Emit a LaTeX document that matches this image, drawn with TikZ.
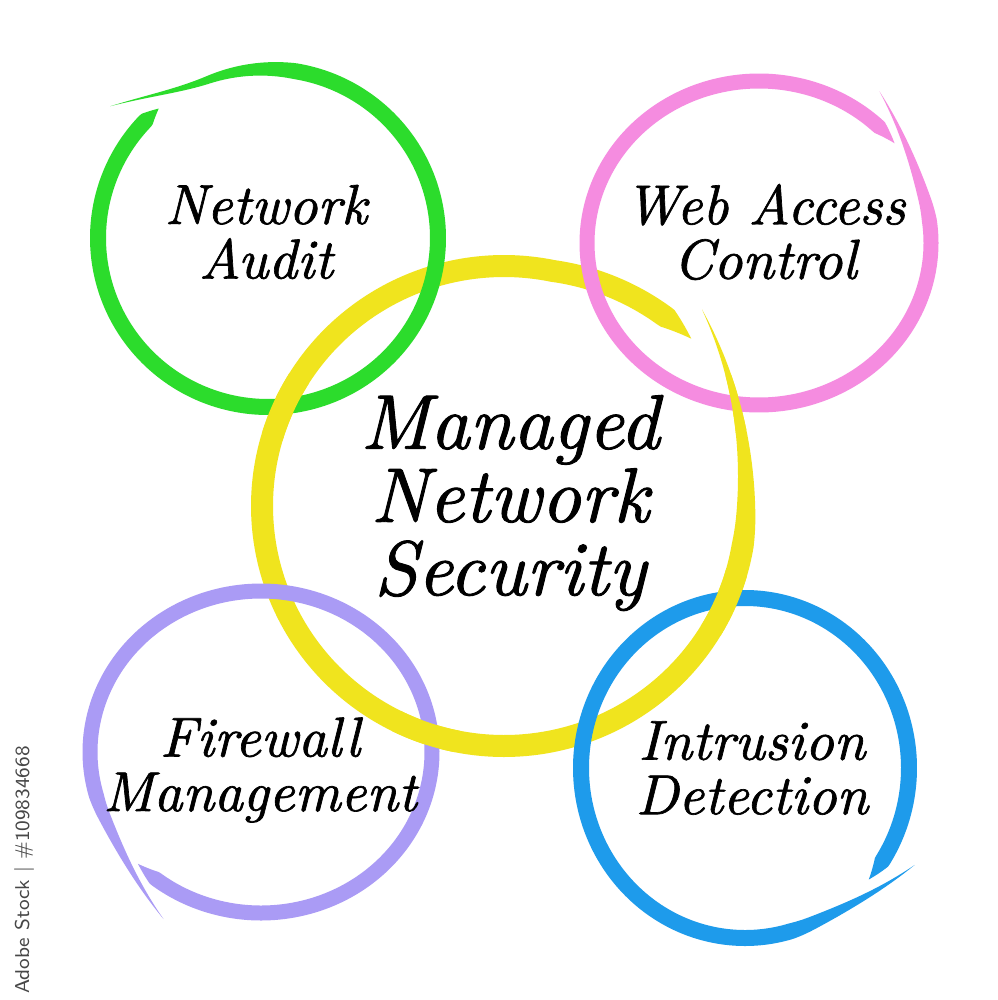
\documentclass[tikz,border=0pt]{standalone}
\usepackage{fontspec}
\newfontfamily\handfont{lmroman10-italic.otf}[FakeBold=1.2]
\definecolor{ringgreen}{RGB}{44,220,44}
\definecolor{ringpink}{RGB}{245,140,224}
\definecolor{ringyellow}{RGB}{240,228,30}
\definecolor{ringpurple}{RGB}{170,155,245}
\definecolor{ringblue}{RGB}{30,155,235}
\pgfqkeys{/ring}{cx/.store in=\rcx, cy/.store in=\rcy, rx/.store in=\rrx, ry/.store in=\rry,
  t0/.store in=\rta, t1/.store in=\rtb, d0/.store in=\rdo, d1/.store in=\rde,
  a/.store in=\ra, b/.store in=\rb, w/.store in=\rW, ts/.store in=\rts, te/.store in=\rte}
\def\roff{(\rdo*max(0,1-\s/\ra)^2+\rde*max(0,(\s-1+\rb)/\rb))}
\def\rwid{(\rW*min(1,\s/\rts,(1-\s)/\rte))}
\def\rang{(\rta+\s*(\rtb-\rta))}
\newcommand{\brushring}[2]{%
  \begingroup
  \pgfqkeys{/ring}{d1=0,a=0.1,b=0.1,ts=0.12,te=0.02,#2}%
  \fill[#1] plot[domain=0:1,samples=360,variable=\s]
    ({\rcx+(\rrx+\roff+0.5*\rwid)*cos(\rang)},{\rcy-(\rry+\roff+0.5*\rwid)*sin(\rang)})
    -- plot[domain=1:0,samples=360,variable=\s]
    ({\rcx+(\rrx+\roff-0.5*\rwid)*cos(\rang)},{\rcy-(\rry+\roff-0.5*\rwid)*sin(\rang)})
    -- cycle;
  \endgroup}
\newcommand{\yellowring}{\brushring{ringyellow}{cx=504,cy=506,rx=242,ry=240,t0=45,t1=-318,d0=38,d1=10,a=0.13,w=22,ts=0.15,te=0.02}}
\tikzset{
  label/.style={align=center,inner sep=0pt,font=\fontsize{16}{15.5}\selectfont\handfont},
  centerlabel/.style={align=center,inner sep=0pt,font=\fontsize{22}{20.8}\selectfont\handfont},
  watermark/.style={rotate=90,inner sep=0pt,text=black!72,font=\fontsize{5.7}{7}\selectfont\sffamily}
}
\begin{document}
\begin{tikzpicture}[x=0.01cm,y=-0.01cm]
\fill[white] (0,0) rectangle (998,1000);
\useasboundingbox (0,0) rectangle (998,1000);
% central ring
\yellowring
% outer rings
\brushring{ringgreen}{cx=268,cy=238,rx=170,ry=169,t0=140,t1=-230,d0=36,a=0.08,w=16,ts=0.16,te=0.015}
\brushring{ringpink}{cx=759,cy=243,rx=172,ry=162,t0=53,t1=-322,d0=28,a=0.1,w=15,ts=0.12,te=0.02}
\brushring{ringpurple}{cx=261,cy=752,rx=171,ry=161,t0=241,t1=-136,d0=30,a=0.1,w=15,ts=0.12,te=0.02}
\brushring{ringblue}{cx=745,cy=768,rx=164,ry=170,t0=-29,t1=-401,d0=30,a=0.1,w=16,ts=0.12,te=0.02}
% yellow passes over at some crossings
\begin{scope}
  \clip (284,407) circle (34) (730,405) circle (30) (426,734) circle (34) (725,602) circle (34);
  \yellowring
\end{scope}
% labels
\node[label] (audit) at (266,232) {Network\\Audit};
\node[label] (web) at (765,232) {Web Access\\Control};
\node[centerlabel] (mns) at (510,503) {Managed\\Network\\Security};
\node[label] (fw) at (260,770) {Firewall\\Management};
\node[label] (ids) at (752,768) {Intrusion\\Detection};
\node[watermark] (wm) at (24,870) {Adobe Stock | \#109834668};
\end{tikzpicture}
\end{document}
